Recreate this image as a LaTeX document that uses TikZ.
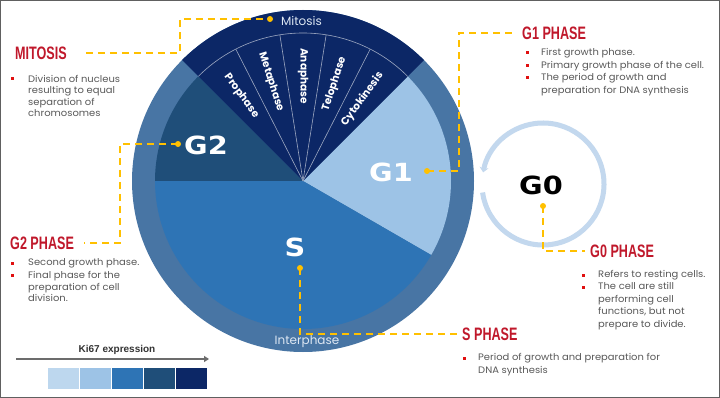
\documentclass[tikz,border=0pt]{standalone}
\usepackage{fontspec}
\setmainfont{Poppins}
\newfontfamily\bodyfont[FakeStretch=1.06]{Poppins}
\newfontfamily\headfont[FakeStretch=0.7]{Liberation Sans}
\newfontfamily\bigfont[FakeStretch=1.15]{DejaVu Sans}
\newfontfamily\legfont{Liberation Sans}
\usetikzlibrary{arrows.meta,calc}
\definecolor{mitc}{HTML}{0C2766}
\definecolor{g2c}{HTML}{1F4E79}
\definecolor{sc}{HTML}{2E74B5}
\definecolor{g1c}{HTML}{9DC3E6}
\definecolor{ringc}{HTML}{4875A4}
\definecolor{paleblue}{HTML}{BDD7EE}
\definecolor{g0ring}{HTML}{C3D8EE}
\definecolor{gold}{HTML}{FFC000}
\definecolor{titlered}{HTML}{C0182B}
\definecolor{bulred}{HTML}{E01010}
\definecolor{txtgray}{HTML}{595959}
\definecolor{lbltxt}{HTML}{DCE6F2}
\tikzset{
  ttl/.style={font=\headfont\bfseries\fontsize{18}{18}\selectfont, text=titlered, inner sep=0pt, anchor=west},
  body/.style={font=\bodyfont\fontsize{9.4}{12}\selectfont, text=txtgray, inner sep=0pt, anchor=west, align=left},
  bul/.style={fill=bulred, minimum size=3pt, inner sep=0pt},
  big/.style={font=\bigfont\bfseries\fontsize{25}{25}\selectfont, inner sep=0pt},
  sub/.style={font=\bfseries\fontsize{10.5}{10.5}\selectfont, text=white, inner sep=0pt},
  ringlbl/.style={font=\fontsize{12}{12}\selectfont, text=lbltxt, inner sep=0pt},
  golddot/.style={circle, fill=gold, minimum size=6pt, inner sep=0pt},
  dashline/.style={draw=gold, line width=1.8pt, dash pattern=on 7pt off 5pt},
  sep/.style={draw=white!60!mitc, line width=0.6pt},
  keybox/.style={minimum width=31pt, minimum height=21pt, inner sep=0pt, draw=none}
}
\begin{document}
\begin{tikzpicture}[x=1pt,y=-1pt]
\useasboundingbox (0,0) rectangle (720,398);
\fill[white] (0,0) rectangle (720,398);
\draw[gray!75!black, line width=1.3pt] (0.65,0.65) rectangle (719.35,397.35);

% big circle
\coordinate (c) at (303,181);
\fill[ringc] (c) circle[radius=171];
\fill[g1c] (c) -- ++(-45:148) arc[start angle=-45, end angle=30, radius=148] -- cycle;
\fill[sc] (c) -- ++(-330:148) arc[start angle=-330, end angle=-180, radius=148] -- cycle;
\fill[g2c] (c) -- ++(-180:148) arc[start angle=-180, end angle=-135, radius=148] -- cycle;
\fill[mitc] (c) -- ++(-135:171) arc[start angle=-135, end angle=-45, radius=171] -- cycle;
\draw[sep] ($(c)+(-135:148)$) arc[start angle=-135, end angle=-45, radius=148];
\foreach \a in {63,81,99,117} \draw[sep] (c) -- ++(-\a:148);

% mitosis sub-phases
\node[sub, rotate=-54] (pro) at ($(c)+(-126:105)$) {Prophase};
\node[sub, rotate=-72] (meta) at ($(c)+(-108:104)$) {Metaphase};
\node[sub, rotate=-90] (ana) at ($(c)+(-90:105)$) {Anaphase};
\node[sub, rotate=72] (telo) at ($(c)+(-72:102)$) {Telophase};
\node[sub, rotate=54] (cyto) at ($(c)+(-54:101)$) {Cytokinesis};

\node[ringlbl] (mitlbl) at (301.5,21) {Mitosis};
\node[ringlbl] (intlbl) at (307,342) {Interphase};

% phase letters
\node[big, text=white] (G1) at (391,172) {G1};
\node[big, text=white] (G2) at (206,145) {G2};
\node[big, text=white] (S) at (295,247) {S};
\node[big, text=black] (G0) at (541,185) {G0};

% G0 circular arrow
\coordinate (g0c) at (543,184);
\draw[g0ring, line width=5pt, -{Stealth[length=5pt,width=9pt]}] ($(g0c)+(-188:61)$) arc[start angle=-188, end angle=-529, radius=61];

% dots
\node[golddot] (dG1) at (427,171) {};
\node[golddot] (dG2) at (178,144) {};
\node[golddot] (dS) at (300,268) {};
\node[golddot] (dG0) at (543,206) {};
\node[golddot] (dMit) at (270,19) {};

% titles
\node[ttl] (mitT) at (15,53) {MITOSIS};
\node[ttl] (g1T) at (522,33) {G1 PHASE};
\node[ttl] (g2T) at (10,243) {G2 PHASE};
\node[ttl] (g0T) at (590,251) {G0 PHASE};
\node[ttl] (sT) at (462,334) {S PHASE};

% bend points
\coordinate (kM) at (180,19);
\coordinate (kG1) at (459,33);
\coordinate (kG2) at (120,243);

% connectors
\draw[dashline] ([xshift=19pt]mitT.east) -| (kM) -- (dMit.center);
\draw[dashline] (dG1.center) -| (kG1) -- ([xshift=-8pt]g1T.west);
\draw[dashline] (dG2.center) -| (kG2) -- ([xshift=10pt]g2T.east);
\draw[dashline] (dS.center) |- ([xshift=-5pt]sT.west);
\draw[dashline] (dG0.center) |- ([xshift=-5pt]g0T.west);

% body texts
\node[bul] (bm1) at (12,79) {};
\node[body, font=\bodyfont\fontsize{9.4}{11.4}\selectfont] (tm1) at (28,96) {Division of nucleus\\resulting  to equal\\separation of\\chromosomes};

\node[bul] (b11) at (527,53) {};
\node[body] (t11) at (541,53) {First growth phase.};
\node[bul] (b12) at (527,66) {};
\node[body] (t12) at (541,66) {Primary growth phase of the cell.};
\node[bul] (b13) at (527,78) {};
\node[body, font=\bodyfont\fontsize{9.4}{12.8}\selectfont] (t13) at (541,84.5) {The period of growth and\\preparation for DNA synthesis};

\node[bul] (b21) at (12,263) {};
\node[body] (t21) at (28,263) {Second growth phase.};
\node[bul] (b22) at (12,275) {};
\node[body, font=\bodyfont\fontsize{9.4}{11.6}\selectfont] (t22) at (28,286.5) {Final phase for the\\preparation of cell\\division.};

\node[bul] (b01) at (583,275) {};
\node[body] (t01) at (598,275) {Refers to resting cells.};
\node[bul] (b02) at (583,287) {};
\node[body, font=\bodyfont\fontsize{9.4}{12.6}\selectfont] (t02) at (598,306) {The cell are still\\performing cell\\functions,  but not\\prepare  to divide.};

\node[bul] (bs1) at (464,358) {};
\node[body, font=\bodyfont\fontsize{9.4}{13}\selectfont] (ts1) at (478,364.5) {Period of growth and preparation for\\DNA synthesis};

% legend
\node[font=\legfont\bfseries\fontsize{10}{10}\selectfont, text=black!80, inner sep=0pt] (ki) at (117,350) {Ki67 expression};
\coordinate (kaS) at (16,359);
\coordinate (kaE) at (209,359);
\draw[gray!85!black, line width=1.4pt, -{Triangle[length=5pt,width=6pt]}] (kaS) -- (kaE);
\node[keybox, fill=white, anchor=north west] (k0) at (16,368) {};
\node[keybox, fill=paleblue, anchor=north west] (k1) at (48,368) {};
\node[keybox, fill=g1c, anchor=north west] (k2) at (80,368) {};
\node[keybox, fill=sc, anchor=north west] (k3) at (112,368) {};
\node[keybox, fill=g2c, anchor=north west] (k4) at (144,368) {};
\node[keybox, fill=mitc, anchor=north west] (k5) at (176,368) {};
\end{tikzpicture}
\end{document}
